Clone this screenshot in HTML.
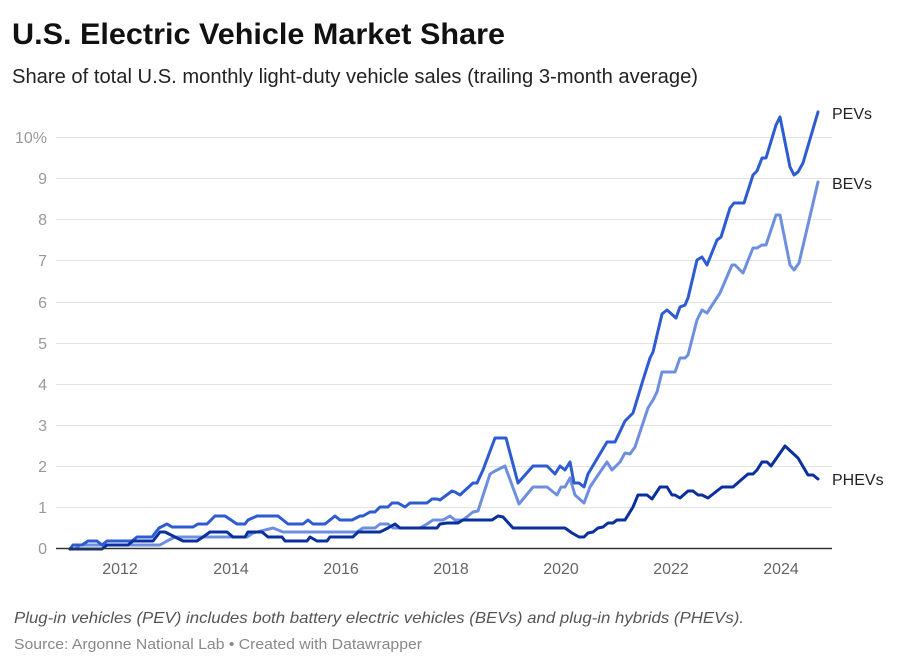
<!DOCTYPE html>
<html><head><meta charset="utf-8"><style>
html,body{margin:0;padding:0;background:#fff;width:900px;height:668px;overflow:hidden}
text{font-family:"Liberation Sans",sans-serif}
</style></head><body>
<svg width="900" height="668" viewBox="0 0 900 668" xmlns="http://www.w3.org/2000/svg">
<text x="12" y="44" font-size="30" font-weight="bold" fill="#111" textLength="493" lengthAdjust="spacingAndGlyphs">U.S. Electric Vehicle Market Share</text>
<text x="12" y="83" font-size="20" fill="#222" textLength="686" lengthAdjust="spacingAndGlyphs">Share of total U.S. monthly light-duty vehicle sales (trailing 3-month average)</text>
<g stroke="#e3e3e3" stroke-width="1">
<line x1="56" x2="832" y1="137.5" y2="137.5"/><line x1="56" x2="832" y1="178.5" y2="178.5"/><line x1="56" x2="832" y1="219.5" y2="219.5"/><line x1="56" x2="832" y1="260.5" y2="260.5"/><line x1="56" x2="832" y1="302.5" y2="302.5"/><line x1="56" x2="832" y1="343.5" y2="343.5"/><line x1="56" x2="832" y1="384.5" y2="384.5"/><line x1="56" x2="832" y1="425.5" y2="425.5"/><line x1="56" x2="832" y1="466.5" y2="466.5"/><line x1="56" x2="832" y1="507.5" y2="507.5"/>
</g>
<g font-size="16" fill="#999" text-anchor="end">
<text x="47" y="143">10%</text><text x="47" y="184">9</text><text x="47" y="225">8</text><text x="47" y="266">7</text><text x="47" y="308">6</text><text x="47" y="349">5</text><text x="47" y="390">4</text><text x="47" y="431">3</text><text x="47" y="472">2</text><text x="47" y="513">1</text><text x="47" y="554">0</text>
</g>
<g font-size="16" fill="#666" text-anchor="middle">
<text x="120" y="574">2012</text><text x="231" y="574">2014</text><text x="341" y="574">2016</text><text x="451" y="574">2018</text><text x="561" y="574">2020</text><text x="671" y="574">2022</text><text x="781" y="574">2024</text>
</g>
<g fill="none" stroke-width="3" stroke-linejoin="round" stroke-linecap="round">
<polyline stroke="#6e8fe0" points="70,549 75,549 80,545 100,545 107,545 160,545 167,541 175,537 247,537 253,533 273,528 283,532 357,532 363,528 375,528 380,524 388,524 393,528 420,528 427,524 433,520 443,520 450,516 455,520 463,520 473,512 478,511 490,474 495,471 505,466 519,504 533,487 547,487 557,495 561,487 565,487 570,478 575,495 584,503 590,487 598,475 607,462 612,470 620,462 625,453 630,454 635,447 648,408 653,400 657,392 662,372 675,372 680,358 685,358 688,355 697,320 702,310 707,313 720,293 732,265 735,265 743,273 753,248 757,248 762,245 766,245 776,215 780,215 790,265 794,270 799,263 818,182"/>
<polyline stroke="#2c5bd2" points="70,549 73,545 82,545 88,541 97,541 102,545 107,541 132,541 137,537 152,537 159,528 167,524 172,527 193,527 198,524 207,524 215,516 225,516 237,524 245,524 248,520 257,516 278,516 288,524 303,524 308,520 313,524 325,524 335,516 340,520 352,520 360,516 363,516 370,512 375,512 380,507 388,507 392,503 398,503 405,507 410,503 427,503 432,499 437,499 440,500 452,491 455,492 460,495 473,483 477,483 483,470 495,438 506,438 518,483 533,466 547,466 555,474 560,466 565,470 570,462 574,483 579,483 584,487 588,474 607,442 615,442 625,421 633,413 643,380 650,358 653,352 662,314 667,310 676,318 680,307 685,305 688,298 697,260 702,257 707,265 717,240 721,237 730,208 734,203 744,203 753,175 757,171 762,158 766,158 776,125 780,117 790,167 794,175 798,172 803,163 818,112"/>
<polyline stroke="#0a2f9e" points="70,549 102,549 107,545 128,545 133,541 153,541 160,532 165,532 175,537 183,541 197,541 203,537 210,532 227,532 233,537 245,537 248,532 262,532 268,537 282,537 285,541 307,541 310,537 317,541 327,541 330,537 353,537 358,532 380,532 388,528 395,524 400,528 437,528 440,524 447,523 458,523 463,520 492,520 498,516 503,517 513,528 565,528 572,533 579,537 584,537 588,533 593,532 598,528 603,527 608,523 613,523 617,520 625,520 633,507 638,495 647,495 652,499 660,487 667,487 672,495 675,495 680,498 688,491 693,491 698,495 702,495 708,498 722,487 733,487 748,474 753,474 757,470 762,462 767,462 771,466 785,446 798,458 808,475 813,475 818,479"/>
</g>
<line x1="56" x2="832" y1="548.5" y2="548.5" stroke="#333" stroke-width="1.5"/>
<g font-size="16" fill="#222">
<text x="832" y="119">PEVs</text><text x="832" y="189">BEVs</text><text x="832" y="485">PHEVs</text>
</g>
<text x="14" y="623" font-size="16" font-style="italic" fill="#555" textLength="730" lengthAdjust="spacingAndGlyphs">Plug-in vehicles (PEV) includes both battery electric vehicles (BEVs) and plug-in hybrids (PHEVs).</text>
<text x="14" y="649" font-size="15" fill="#888" textLength="408" lengthAdjust="spacingAndGlyphs">Source: Argonne National Lab • Created with Datawrapper</text>
</svg>
</body></html>
